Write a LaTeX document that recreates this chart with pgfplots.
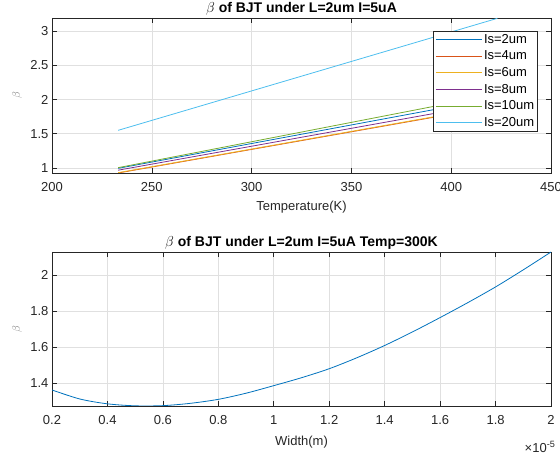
\documentclass[border=0pt]{standalone}
\usepackage{fontspec}
\setmainfont{Liberation Sans}
\usepackage{pgfplots}
\pgfplotsset{compat=1.18}
\definecolor{mblue}{rgb}{0,0.447,0.741}
\definecolor{morange}{rgb}{0.850,0.325,0.098}
\definecolor{myellow}{rgb}{0.929,0.694,0.125}
\definecolor{mpurple}{rgb}{0.494,0.184,0.556}
\definecolor{mgreen}{rgb}{0.466,0.674,0.188}
\definecolor{mcyan}{rgb}{0.301,0.745,0.933}
\definecolor{axgray}{rgb}{0.15,0.15,0.15}
\definecolor{gridgray}{rgb}{0.88,0.88,0.88}
\pgfplotsset{
  every axis title shift=0pt,
  mstyle/.style={
    scale only axis,
    width=499pt,
    font=\fontsize{13}{15}\selectfont,
    /pgf/number format/assume math mode=true,
    axis line style={axgray, line width=0.6pt},
    tick style={axgray, line width=0.6pt},
    major tick length=5pt,
    tick align=inside,
    tick pos=both,
    ticklabel style={text=axgray},
    xticklabel style={yshift=-6pt},
    grid=major,
    major grid style={gridgray, line width=0.6pt},
    title style={font=\bfseries\fontsize{14}{16}\selectfont, text=black,
      at={(axis description cs:0.5,1)}, anchor=base, yshift=5.5pt},
    every axis plot/.append style={line width=0.8pt, mark=none},
    legend image code/.code={\draw[#1, line width=1.1pt] (0pt,0pt) -- (46pt,0pt);},
  }
}
\begin{document}
\begin{tikzpicture}[x=1pt,y=1pt]
\path[use as bounding box] (0,0) rectangle (560,457);
\begin{axis}[mstyle,
  at={(52pt,284pt)}, anchor=south west, height=155pt,
  xmin=200, xmax=450, ymin=0.927, ymax=3.19,
  xtick={200,250,300,350,400,450},
  ytick={1,1.5,2,2.5,3},
  yticklabels={1,1.5,2,2.5,3},
  xticklabels={200,250,300,350,400,450},
  title={$\beta$ of BJT under L=2um I=5uA},
  xlabel={Temperature(K)},
  xlabel style={at={(axis description cs:0.5,-0.219)}, anchor=center, text=axgray},
  ylabel={$\beta$},
  ylabel style={at={(axis description cs:-0.07,0.5)}, anchor=center, text=gray, font=\fontsize{11}{13}\selectfont},
  legend cell align=left,
  legend style={at={(axis description cs:0.974,0.916)}, anchor=north east,
    draw=axgray, line width=0.6pt, fill=white, font=\fontsize{13}{15}\selectfont,
    inner xsep=2pt, inner ysep=1.5pt, row sep=3.1pt,
    nodes={inner sep=1.5pt, text=black}},
]
\addplot[draw=mblue] coordinates {(233.15,0.995) (423.15,2.025)};
\addlegendentry{Is=2um}
\addplot[draw=morange] coordinates {(233.15,0.927) (423.15,1.905)};
\addlegendentry{Is=4um}
\addplot[draw=myellow] coordinates {(233.15,0.932) (423.15,1.912)};
\addlegendentry{Is=6um}
\addplot[draw=mpurple] coordinates {(233.15,0.968) (423.15,1.962)};
\addlegendentry{Is=8um}
\addplot[draw=mgreen] coordinates {(233.15,1.005) (423.15,2.080)};
\addlegendentry{Is=10um}
\addplot[draw=mcyan] coordinates {(233.15,1.550) (423.15,3.185)};
\addlegendentry{Is=20um}
\end{axis}
\begin{axis}[mstyle,
  at={(52pt,51pt)}, anchor=south west, height=154pt,
  xmin=0.2, xmax=2, ymin=1.274, ymax=2.129,
  xtick={0.2,0.4,0.6,0.8,1,1.2,1.4,1.6,1.8,2},
  xticklabels={0.2,0.4,0.6,0.8,1,1.2,1.4,1.6,1.8,2},
  ytick={1.4,1.6,1.8,2},
  yticklabels={1.4,1.6,1.8,2},
  title={$\beta$ of BJT under L=2um I=5uA Temp=300K},
  xlabel={Width(m)},
  xlabel style={at={(axis description cs:0.5,-0.234)}, anchor=center, text=axgray},
  ylabel={$\beta$},
  ylabel style={at={(axis description cs:-0.07,0.5)}, anchor=center, text=gray, font=\fontsize{11}{13}\selectfont},
  clip mode=individual,
]
% x in units of 1e-5 m
\addplot[draw=mblue, smooth] coordinates {
(0.2,1.363) (0.3,1.313) (0.4,1.286) (0.5,1.275) (0.6,1.276) (0.7,1.289)
(0.8,1.311) (0.9,1.345) (1.0,1.387) (1.1,1.431) (1.2,1.481) (1.3,1.542)
(1.4,1.610) (1.5,1.685) (1.6,1.765) (1.7,1.848) (1.8,1.935) (1.9,2.030) (2.0,2.129)};
\node[text=axgray, font=\fontsize{13}{15}\selectfont] at (rel axis cs:0.978,-0.266) {×10\textsuperscript{-5}};
\end{axis}
\end{tikzpicture}
\end{document}
